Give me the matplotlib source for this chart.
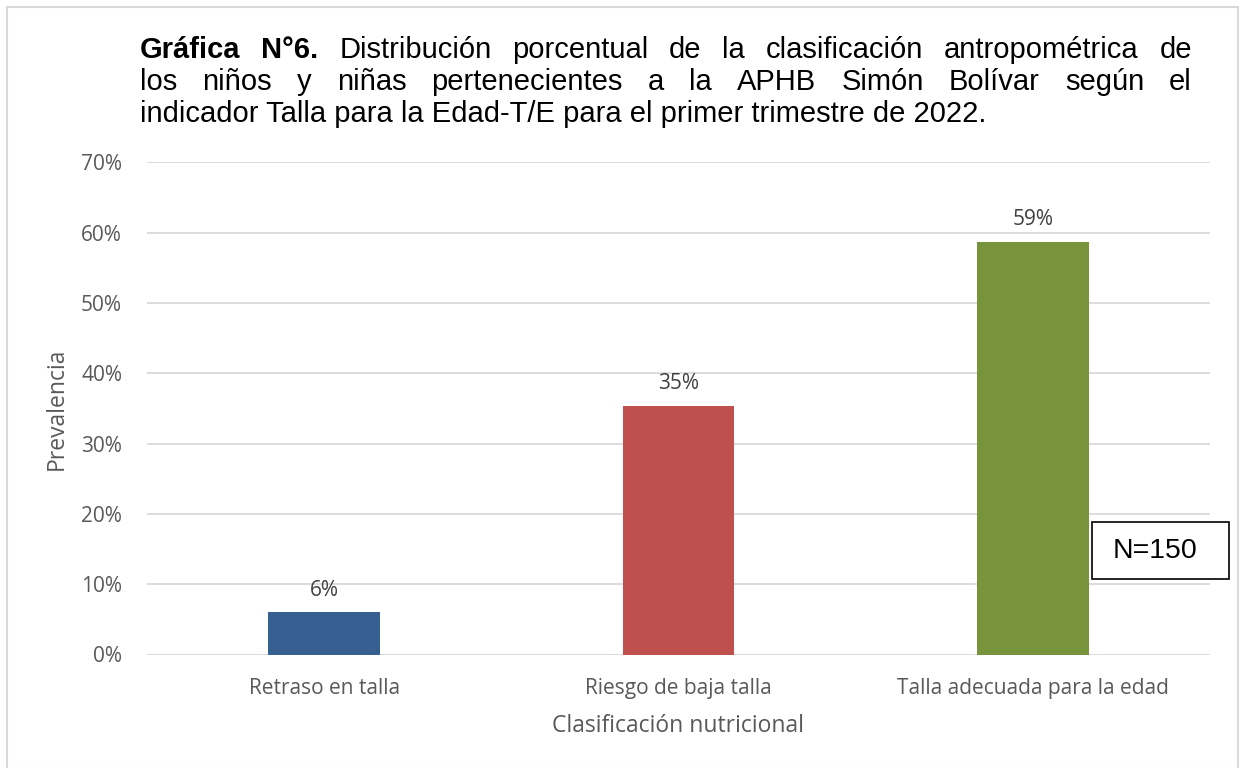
import matplotlib
matplotlib.use("Agg")
import matplotlib.pyplot as plt
from matplotlib.patches import Rectangle
from matplotlib.ticker import PercentFormatter

categories = ["Retraso en talla", "Riesgo de baja talla", "Talla adecuada para la edad"]
values = [6.0, 35.3, 58.7]
labels = ["6%", "35%", "59%"]
colors = ["#376092", "#C0504D", "#77933C"]
yticks = [0, 10, 20, 30, 40, 50, 60, 70]
title_lines = [
    [("Gráfica", True), ("N°6.", True), ("Distribución", False), ("porcentual", False), ("de", False),
     ("la", False), ("clasificación", False), ("antropométrica", False), ("de", False)],
    [("los", False), ("niños", False), ("y", False), ("niñas", False), ("pertenecientes", False),
     ("a", False), ("la", False), ("APHB", False), ("Simón", False), ("Bolívar", False),
     ("según", False), ("el", False)],
]
title_last = "indicador Talla para la Edad-T/E para el primer trimestre de 2022."
xlabel = "Clasificación nutricional"
ylabel = "Prevalencia"
note = "N=150"

W, H = 1239, 768
fig = plt.figure(figsize=(W / 100, H / 100), dpi=100)
body = ["Open Sans", "DejaVu Sans"]
tfont = ["Liberation Sans", "DejaVu Sans"]

def px(x, y):
    return x / W, 1 - y / H

# outer frame
fig.add_artist(Rectangle(px(7, 769), (1238 - 7) / W, (769 - 7) / H, transform=fig.transFigure,
                         fill=False, edgecolor="#D9D9D9", linewidth=1.5))

ax = fig.add_axes([147 / W, 1 - 654.5 / H, (1210 - 147) / W, (654.5 - 162.3) / H])
x = list(range(len(categories)))
ax.bar(x, values, width=0.316, color=colors, zorder=3)
ax.set_xlim(-0.5, len(categories) - 0.5)
ax.set_ylim(0, 70)
ax.set_yticks(yticks)
ax.yaxis.set_major_formatter(PercentFormatter(decimals=0))
ax.set_xticks(x)
ax.set_xticklabels(categories)
ax.grid(axis="y", color="#D9D9D9", linewidth=1.3, zorder=0)
for s in ax.spines.values():
    s.set_visible(False)
ax.tick_params(length=0)
ax.tick_params(axis="y", pad=18, labelsize=15, labelcolor="#595959")
ax.tick_params(axis="x", pad=17, labelsize=15, labelcolor="#595959")
for t in ax.get_xticklabels() + ax.get_yticklabels():
    t.set_family(body)
for xi, v, lab in zip(x, values, labels):
    ax.annotate(lab, (xi, v), xytext=(0, 8.5), textcoords="offset points", ha="center", va="bottom",
                fontsize=15, color="#404040", family=body)
ax.set_xlabel(xlabel, fontsize=16.5, color="#595959", family=body, labelpad=11)
ax.set_ylabel(ylabel, fontsize=16.5, color="#595959", family=body, labelpad=9)

# N=150 box
fig.add_artist(Rectangle(px(1092, 579), (1229 - 1092) / W, (579 - 521.5) / H, transform=fig.transFigure,
                         facecolor="white", edgecolor="black", linewidth=1.2, zorder=5))
fig.text(*px(1155, 551), note, ha="center", va="center", fontsize=20.5, family=tfont, zorder=6)

# title, justified lines
x0, x1 = 140, 1192
fs = 21
baselines = [58, 90, 122]
fig.canvas.draw()
r = fig.canvas.get_renderer()
for line, yb in zip(title_lines, baselines):
    texts = []
    for w, b in line:
        t = fig.text(0, 0, w, fontsize=fs, family=tfont, fontweight="bold" if b else "normal",
                     va="baseline", ha="left")
        texts.append(t)
    widths = [t.get_window_extent(r).width for t in texts]
    gap = (x1 - x0 - sum(widths)) / (len(texts) - 1)
    cx = x0
    for t, wd in zip(texts, widths):
        t.set_position(px(cx, yb))
        cx += wd + gap
fig.text(*px(x0, baselines[2]), title_last, fontsize=fs, family=tfont, va="baseline", ha="left")

fig.savefig("out.png", dpi=100, facecolor="white")
